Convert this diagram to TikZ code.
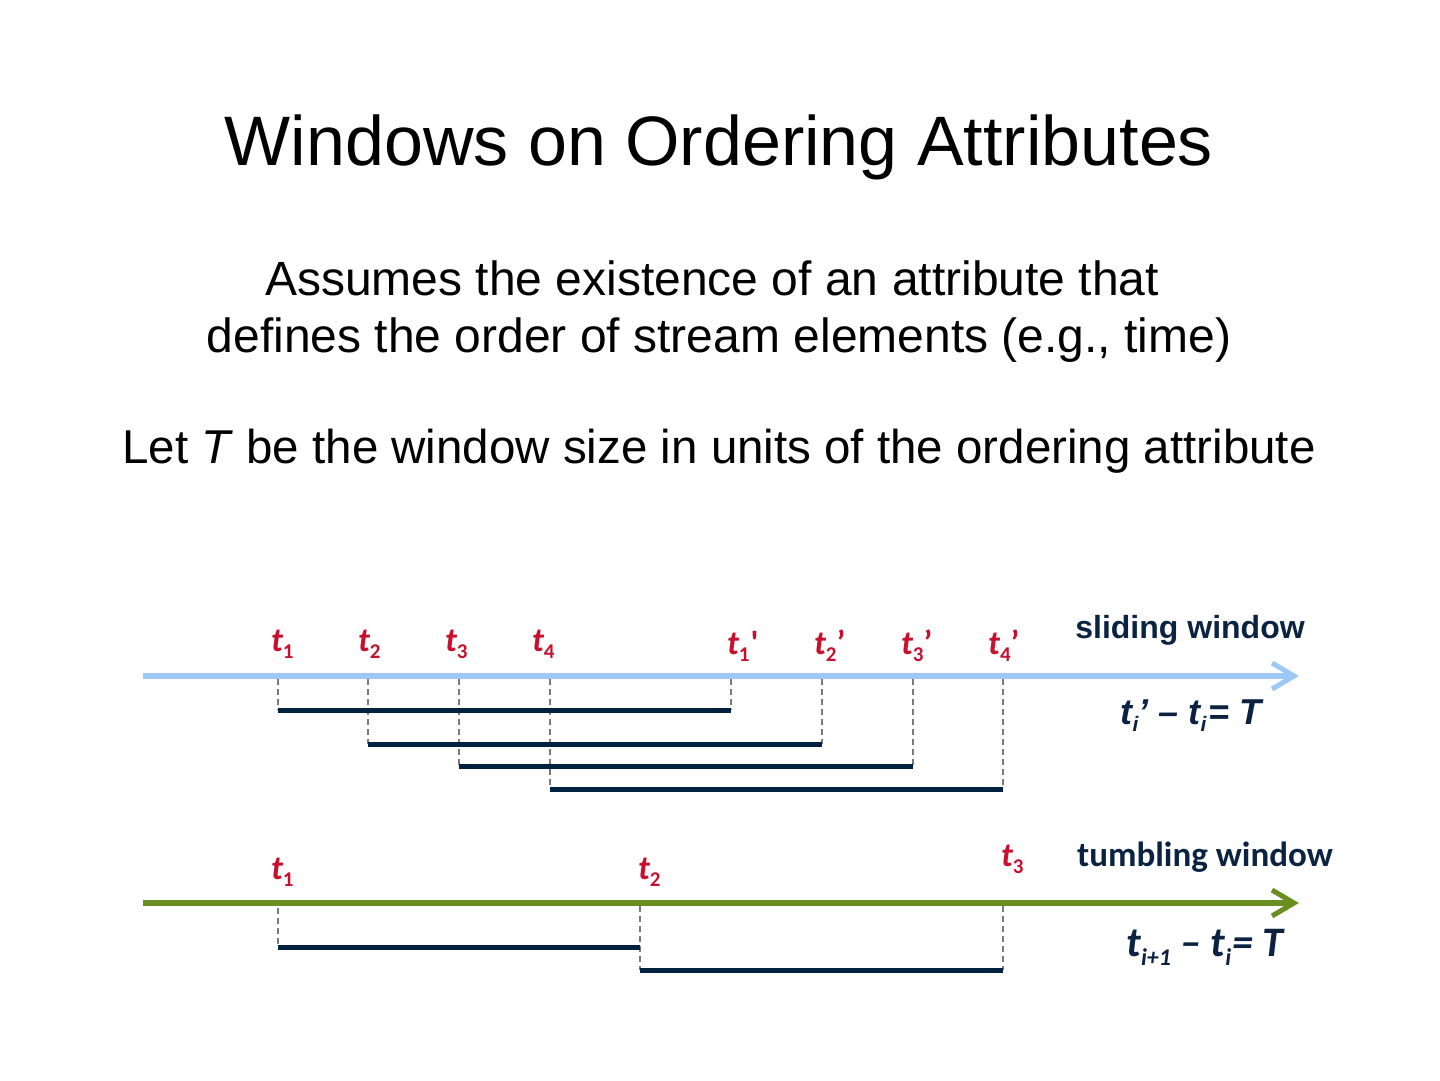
\documentclass[tikz,border=0pt]{standalone}
\usepackage{fontspec}
\setmainfont{Liberation Sans}
\newfontfamily\carl{Carlito}
\newfontfamily\arl{Liberation Sans}
\definecolor{tred}{HTML}{C8102E}
\definecolor{navy}{HTML}{0B2341}
\definecolor{barc}{HTML}{00213F}
\definecolor{axblue}{HTML}{9DC8F5}
\definecolor{axgreen}{HTML}{6B8E23}
\definecolor{dgray}{HTML}{7A7A7A}
\newcommand{\tlab}[2]{{\carl\bfseries\fontsize{34}{34}\selectfont\itshape t\upshape\raisebox{-0.22em}{\fontsize{21}{21}\selectfont #1}#2}}
\tikzset{
  lab/.style={anchor=base west, inner sep=0pt, text=tred},
  axisline/.style={line width=6pt},
  chev/.style={line width=5pt, line join=miter},
  bar/.style={line width=5pt, draw=barc},
  guide/.style={line width=1.6pt, draw=dgray, dash pattern=on 6pt off 4pt},
  body/.style={inner sep=0pt, anchor=base, font=\fontsize{48}{56}\selectfont}
}
\begin{document}
\begin{tikzpicture}[x=1pt,y=-1pt]
\useasboundingbox (0,0) rectangle (1440,1080);
% titles
\node[inner sep=0pt, anchor=base, font=\fontsize{70}{70}\selectfont] (title) at (719,165) {Windows on Ordering Attributes};
\node[body] (l1) at (712,295) {Assumes the existence of an attribute that};
\node[body] (l2) at (719,352) {defines the order of stream elements (e.g., time)};
\node[body, font=\fontsize{47.5}{56}\selectfont] (l3) at (719,463) {Let \textit{T} be the window size in units of the ordering attribute};

% ---------- sliding window ----------
\coordinate (s0) at (143,676);
\coordinate (s1) at (1294,676);
\draw[axisline, draw=axblue] (s0) -- (s1);
\draw[chev, draw=axblue] (1272,663) -- (s1) -- (1272,689);

\foreach \n/\x in {a/278,b/368,c/459,d/550,e/731,f/822,g/913,h/1003}{
  \coordinate (top\n) at (\x,679);
}
\coordinate (b1s) at (278,710); \coordinate (b1e) at (731,710);
\coordinate (b2s) at (368,744); \coordinate (b2e) at (822,744);
\coordinate (b3s) at (459,766); \coordinate (b3e) at (913,766);
\coordinate (b4s) at (550,789); \coordinate (b4e) at (1003,789);
\draw[guide] (topa) -- (b1s);
\draw[guide] (tope) -- (b1e);
\draw[guide] (topb) -- (b2s);
\draw[guide] (topf) -- (b2e);
\draw[guide] (topc) -- (b3s);
\draw[guide] (topg) -- (b3e);
\draw[guide] (topd) -- (b4s);
\draw[guide] (toph) -- (b4e);
\draw[bar] (b1s) -- (b1e);
\draw[bar] (b2s) -- (b2e);
\draw[bar] (b3s) -- (b3e);
\draw[bar] (b4s) -- (b4e);

\node[lab] (st1) at (271,651) {\tlab{1}{}};
\node[lab] (st2) at (358,651) {\tlab{2}{}};
\node[lab] (st3) at (445,651) {\tlab{3}{}};
\node[lab] (st4) at (532,651) {\tlab{4}{}};
\node[lab] (st1p) at (727,654) {\tlab{1}{\kern1pt'}};
\node[lab] (st2p) at (814,654) {\tlab{2}{’}};
\node[lab] (st3p) at (901,654) {\tlab{3}{’}};
\node[lab] (st4p) at (988,654) {\tlab{4}{’}};

\node[inner sep=0pt, anchor=base, text=navy, font=\arl\bfseries\fontsize{32}{32}\selectfont] (slw) at (1190,638) {sliding window};
\node[inner sep=0pt, anchor=base, text=navy, font=\arl\bfseries\itshape\fontsize{36}{36}\selectfont] (sfm) at (1191,724)
  {t\raisebox{-0.22em}{\fontsize{21}{21}\selectfont i}’ – t\raisebox{-0.22em}{\fontsize{21}{21}\selectfont i}\kern2pt= T};

% ---------- tumbling window ----------
\coordinate (u0) at (143,903);
\coordinate (u1) at (1294,903);
\draw[axisline, draw=axgreen] (u0) -- (u1);
\draw[chev, draw=axgreen] (1272,890) -- (u1) -- (1272,916);

\coordinate (ua) at (278,908);
\coordinate (ub) at (640,906);
\coordinate (uc) at (1003,906);
\coordinate (c1s) at (278,947); \coordinate (c1e) at (640,947);
\coordinate (c2s) at (640,970); \coordinate (c2e) at (1003,970);
\draw[guide] (ua) -- (c1s);
\draw[guide] (ub) -- (c2s);
\draw[guide] (uc) -- (c2e);
\draw[bar] (c1s) -- (c1e);
\draw[bar] (c2s) -- (c2e);

\node[lab] (ut1) at (271,879) {\tlab{1}{}};
\node[lab] (ut2) at (638,879) {\tlab{2}{}};
\node[lab] (ut3) at (1001,866) {\tlab{3}{}};

\node[inner sep=0pt, anchor=base, text=navy, font=\carl\bfseries\fontsize{35}{35}\selectfont] (tw) at (1205,866) {tumbling window};
\node[inner sep=0pt, anchor=base, text=navy, font=\carl\bfseries\itshape\fontsize{42}{42}\selectfont] (tfm) at (1205,956)
  {t\raisebox{-0.22em}{\fontsize{24}{24}\selectfont i+1} – t\raisebox{-0.22em}{\fontsize{24}{24}\selectfont i}\kern1pt= T};
\end{tikzpicture}
\end{document}
